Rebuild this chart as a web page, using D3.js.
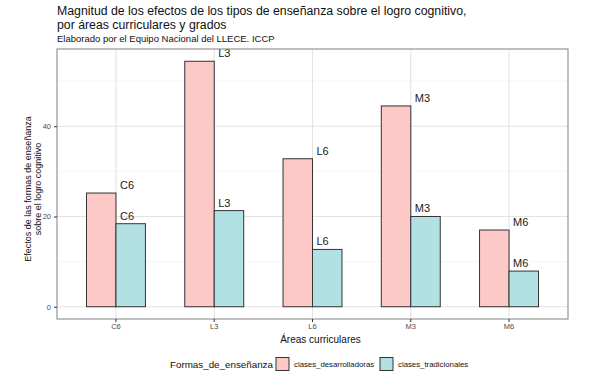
<!DOCTYPE html>
<html>
<head>
<meta charset="utf-8">
<script src="https://cdn.jsdelivr.net/npm/d3@7"></script>
<style>
  body { margin: 0; background: #fff; }
  text { font-family: "Liberation Sans", Arial, sans-serif; }
</style>
</head>
<body>
<svg id="chart"></svg>
<script>
// Data
const categories = ["C6", "L3", "L6", "M3", "M6"];
const series = ["clases_desarrolladoras", "clases_tradicionales"];
const desarrolladoras = [25.2, 54.4, 32.8, 44.5, 17.0];
const tradicionales = [18.4, 21.3, 12.7, 20.0, 7.9];
const yTicks = [0, 20, 40];
const yMinor = [10, 30, 50];

const colors = { clases_desarrolladoras: "#fcc9c6", clases_tradicionales: "#b1e1e3" };

const W = 597, H = 385;
const svg = d3.select("#chart").attr("width", W).attr("height", H);

const panel = { left: 57, right: 568, top: 49, bottom: 319 };

const maxVal = d3.max(desarrolladoras.concat(tradicionales));
const x = d3.scaleBand()
    .domain(categories)
    .range([panel.left, panel.right])
    .paddingInner(0.4)
    .paddingOuter(0.3);

const xSub = d3.scaleBand()
    .domain(series)
    .range([0, x.bandwidth()]);

const y = d3.scaleLinear()
    .domain([-maxVal * 0.05, maxVal * 1.05])
    .range([panel.bottom, panel.top]);

// Grid lines
const grid = svg.append("g");
grid.selectAll(".minor")
    .data(yMinor)
    .join("line")
    .attr("x1", panel.left).attr("x2", panel.right)
    .attr("y1", d => y(d)).attr("y2", d => y(d))
    .attr("stroke", "#f0f0f0").attr("stroke-width", 0.6);
grid.selectAll(".major")
    .data(yTicks)
    .join("line")
    .attr("x1", panel.left).attr("x2", panel.right)
    .attr("y1", d => y(d)).attr("y2", d => y(d))
    .attr("stroke", "#e3e3e3").attr("stroke-width", 1.1);
grid.selectAll(".vmajor")
    .data(categories)
    .join("line")
    .attr("x1", d => x(d) + x.bandwidth() / 2).attr("x2", d => x(d) + x.bandwidth() / 2)
    .attr("y1", panel.top).attr("y2", panel.bottom)
    .attr("stroke", "#e3e3e3").attr("stroke-width", 1.1);

// Bars
const rows = categories.map((c, i) => ({
    cat: c,
    values: [
        { key: "clases_desarrolladoras", value: desarrolladoras[i] },
        { key: "clases_tradicionales", value: tradicionales[i] }
    ]
}));

const groups = svg.append("g").selectAll("g")
    .data(rows)
    .join("g")
    .attr("transform", d => `translate(${x(d.cat)},0)`);

groups.selectAll("rect")
    .data(d => d.values)
    .join("rect")
    .attr("x", d => xSub(d.key))
    .attr("y", d => y(d.value))
    .attr("width", xSub.bandwidth())
    .attr("height", d => y(0) - y(d.value))
    .attr("fill", d => colors[d.key])
    .attr("stroke", "#333")
    .attr("stroke-width", 1);

// Bar labels (at category centre, just above each bar)
groups.selectAll("text")
    .data(d => d.values.map(v => ({ ...v, cat: d.cat })))
    .join("text")
    .attr("x", x.bandwidth() / 2 + 4)
    .attr("y", d => y(d.value) - 4)
    .attr("font-size", 11)
    .attr("fill", "#1a1a1a")
    .text(d => d.cat);

// Panel border
svg.append("rect")
    .attr("x", panel.left).attr("y", panel.top)
    .attr("width", panel.right - panel.left)
    .attr("height", panel.bottom - panel.top)
    .attr("fill", "none")
    .attr("stroke", "#8a8a8a")
    .attr("stroke-width", 1.1);

// Axes
const xAxis = svg.append("g")
    .attr("transform", `translate(0,${panel.bottom})`)
    .call(d3.axisBottom(x).tickSize(3).tickSizeOuter(0));
const yAxis = svg.append("g")
    .attr("transform", `translate(${panel.left},0)`)
    .call(d3.axisLeft(y).tickValues(yTicks).tickSize(3).tickSizeOuter(0));
[xAxis, yAxis].forEach(a => {
    a.select(".domain").remove();
    a.selectAll(".tick line").attr("stroke", "#333");
    a.selectAll(".tick text").attr("fill", "#4d4d4d").attr("font-size", 7.5)
        .attr("font-family", "Liberation Sans, Arial, sans-serif");
});
xAxis.selectAll(".tick text").attr("y", 5).attr("dy", "0.71em");

// Titles
svg.append("text").attr("x", 57).attr("y", 14.5).attr("font-size", 12.3).attr("fill", "#111")
    .text("Magnitud de los efectos de los tipos de enseñanza sobre el logro cognitivo,");
svg.append("text").attr("x", 57).attr("y", 28.5).attr("font-size", 12.3).attr("fill", "#111")
    .text("por áreas curriculares y grados");
svg.append("text").attr("x", 57).attr("y", 42).attr("font-size", 9.5).attr("fill", "#111")
    .text("Elaborado por el Equipo Nacional del LLECE. ICCP");

svg.append("text")
    .attr("x", (panel.left + panel.right) / 2 + 8).attr("y", 343)
    .attr("text-anchor", "middle").attr("font-size", 10).attr("fill", "#111")
    .text("Áreas curriculares");

const yTitle = svg.append("text")
    .attr("transform", `translate(31,${(panel.top + panel.bottom) / 2 + 5}) rotate(-90)`)
    .attr("text-anchor", "middle").attr("font-size", 9).attr("fill", "#111");
yTitle.append("tspan").attr("x", 0).attr("dy", 0).text("Efectos de las formas de enseñanza");
yTitle.append("tspan").attr("x", 0).attr("dy", 9.5).text("sobre el logro cognitivo");

// Legend
const legend = svg.append("g").attr("transform", "translate(170,364)");
legend.append("text").attr("x", 0).attr("y", 3.5).attr("font-size", 9.8).attr("fill", "#111")
    .text("Formas_de_enseñanza");
const legendX = [106, 210];
const legendItems = legend.selectAll(".item")
    .data(series)
    .join("g")
    .attr("transform", (d, i) => `translate(${legendX[i]},0)`);
legendItems.append("rect")
    .attr("x", 0).attr("y", -6.5).attr("width", 13).attr("height", 13)
    .attr("fill", d => colors[d]).attr("stroke", "#333").attr("stroke-width", 1);
legendItems.append("text")
    .attr("x", 18).attr("y", 3).attr("font-size", 7.8).attr("fill", "#111")
    .text(d => d);
</script>
</body>
</html>
